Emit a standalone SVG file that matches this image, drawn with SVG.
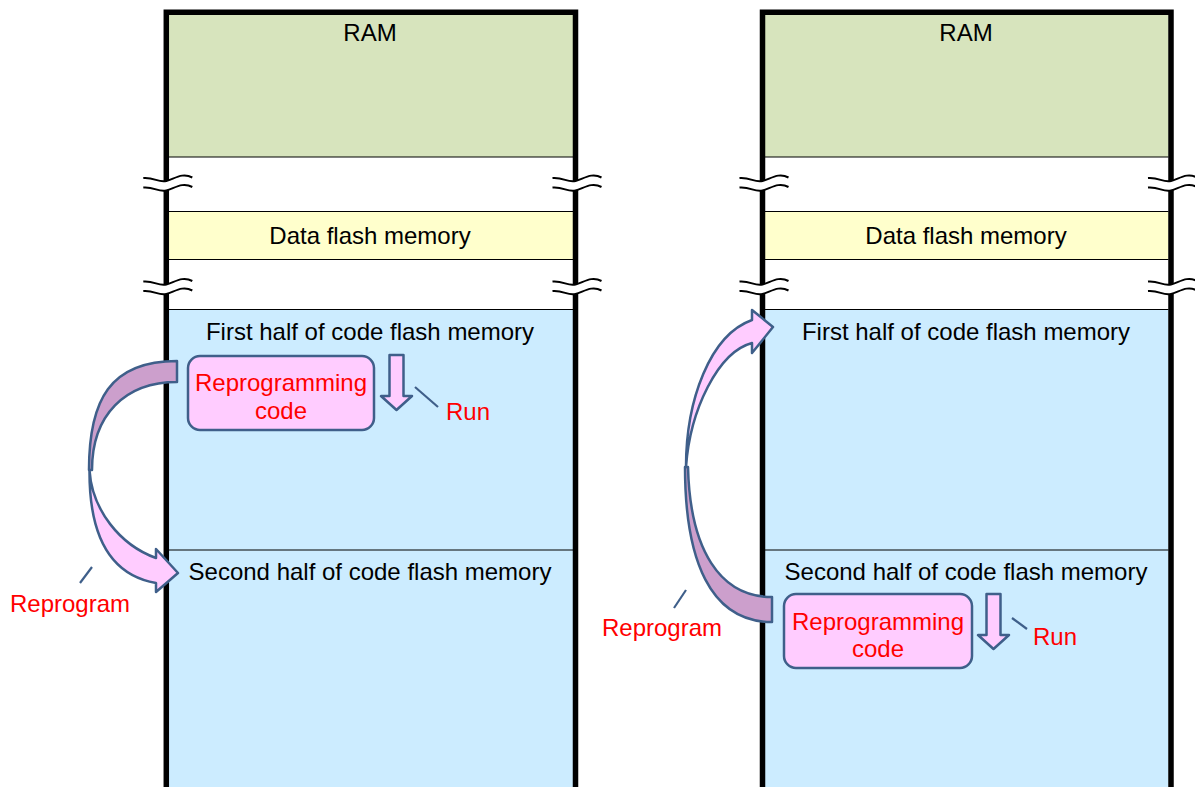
<svg xmlns="http://www.w3.org/2000/svg" width="1195" height="787" viewBox="0 0 1195 787">
<style>
.t{font-family:"Liberation Sans",Arial,sans-serif;font-size:24px;fill:#000}
.r{font-family:"Liberation Sans",Arial,sans-serif;font-size:24px;fill:#ff0000}
.sep{stroke:#000;stroke-width:1.2;fill:none}
.border{stroke:#000;stroke-width:5.5;fill:none}
.ram{fill:#d7e4bd}
.df{fill:#ffffcc}
.cf{fill:#ccecff}
.box{fill:#ffccff;stroke:#3f5f8a;stroke-width:2.5}
.light{fill:#ffccff;stroke:#3f5f8a;stroke-width:2.5;stroke-linejoin:round}
.dark{fill:#cc9fcc;stroke:#3f5f8a;stroke-width:2.5;stroke-linejoin:round}
.lead{stroke:#3f5f8a;stroke-width:2.2;fill:none}
.wave{stroke:#000;stroke-width:2;fill:none}
</style>
<defs>
<g id="brk">
<path d="M-23,-2 C-12,-3 -8,3 0,1 S16,-8 26,-2.5 L26,7 C16,1.5 8,8.5 0,10.5 C-8,12.5 -12,6.5 -23,7.5 Z" fill="#fff"/>
<path class="wave" d="M-23,-2 C-12,-3 -8,3 0,1 S16,-8 26,-2.5"/>
<path class="wave" d="M-23,7.5 C-12,6.5 -8,12.5 0,10.5 S16,1.5 26,7"/>
</g>
</defs>

<g id="left-column">
<rect class="ram" x="169" y="15" width="404" height="142"/>
<rect fill="#fff" x="169" y="157" width="404" height="54.5"/>
<rect class="df" x="169" y="211.5" width="404" height="48"/>
<rect fill="#fff" x="169" y="259.5" width="404" height="50"/>
<rect class="cf" x="169" y="309.5" width="404" height="480"/>
<path class="sep" d="M169,157H573M169,211.5H573M169,259.5H573M169,309.5H573M169,550H573"/>
<path class="border" d="M166.3,790V12.3H575.5V790"/>
<use href="#brk" x="166.3" y="180"/>
<use href="#brk" x="166.3" y="283.5"/>
<use href="#brk" x="575.5" y="180"/>
<use href="#brk" x="575.5" y="283.5"/>
<text class="t" x="370" y="41" text-anchor="middle">RAM</text>
<text class="t" x="370" y="244" text-anchor="middle">Data flash memory</text>
<text class="t" x="370" y="340" text-anchor="middle">First half of code flash memory</text>
<text class="t" x="370" y="580" text-anchor="middle">Second half of code flash memory</text>
</g>

<g id="right-column">
<rect class="ram" x="765" y="15" width="403.5" height="142"/>
<rect fill="#fff" x="765" y="157" width="403.5" height="54.5"/>
<rect class="df" x="765" y="211.5" width="403.5" height="48"/>
<rect fill="#fff" x="765" y="259.5" width="403.5" height="50"/>
<rect class="cf" x="765" y="309.5" width="403.5" height="480"/>
<path class="sep" d="M765,157H1168.5M765,211.5H1168.5M765,259.5H1168.5M765,309.5H1168.5M765,550H1168.5"/>
<path class="border" d="M762.5,790V12.3H1171V790"/>
<use href="#brk" x="762.5" y="180"/>
<use href="#brk" x="762.5" y="283.5"/>
<use href="#brk" x="1171" y="180"/>
<use href="#brk" x="1171" y="283.5"/>
<text class="t" x="966" y="41" text-anchor="middle">RAM</text>
<text class="t" x="966" y="244" text-anchor="middle">Data flash memory</text>
<text class="t" x="966" y="340" text-anchor="middle">First half of code flash memory</text>
<text class="t" x="966" y="580" text-anchor="middle">Second half of code flash memory</text>
</g>

<g id="left-reprogramming-code">
<rect class="box" x="188" y="356" width="186" height="74" rx="12"/>
<text class="r" x="281" y="391" text-anchor="middle">Reprogramming</text>
<text class="r" x="281" y="419" text-anchor="middle">code</text>
</g>
<g id="right-reprogramming-code">
<rect class="box" x="784" y="594" width="188" height="74" rx="12"/>
<text class="r" x="878" y="630" text-anchor="middle">Reprogramming</text>
<text class="r" x="878" y="657" text-anchor="middle">code</text>
</g>

<g id="left-run">
<text class="r" x="446" y="420">Run</text>
</g>
<g id="right-run">
<text class="r" x="1033" y="645">Run</text>
</g>
<g id="left-reprogram">
<text class="r" x="10" y="612">Reprogram</text>
</g>
<g id="right-reprogram">
<text class="r" x="602" y="636">Reprogram</text>
</g>

<g id="connectors">
<path class="dark" d="M177,361 C110,361 89,400 89,470 L92,470 C92,415 125,382 177,382 Z"/>
<path class="light" d="M89.5,470 C89,535 110,575 156,583 L156,592 L178,573 L156,549 L156,558 C120,545 92,510 89.5,470 Z"/>
<path class="dark" d="M772,622 C710,622 685,560 685,467 L688,467 C690,550 720,597 772,597 Z"/>
<path class="light" d="M686,467 C686,400 710,335 752,320 L752,310 L773,327 L752,353 L752,343 C718,352 690,410 686,467 Z"/>
<polygon class="light" points="389.5,355 403.5,355 403.5,396 412,396 396.5,410 381,396 389.5,396"/>
<polygon class="light" points="986.5,594 1000.5,594 1000.5,635 1009,635 993.5,649 978,635 986.5,635"/>
<path class="lead" d="M415,387 L438,407"/>
<path class="lead" d="M1012,618 L1027,629"/>
<path class="lead" d="M80,583 L92,567"/>
<path class="lead" d="M674,608 L686,590"/>
</g>
</svg>
